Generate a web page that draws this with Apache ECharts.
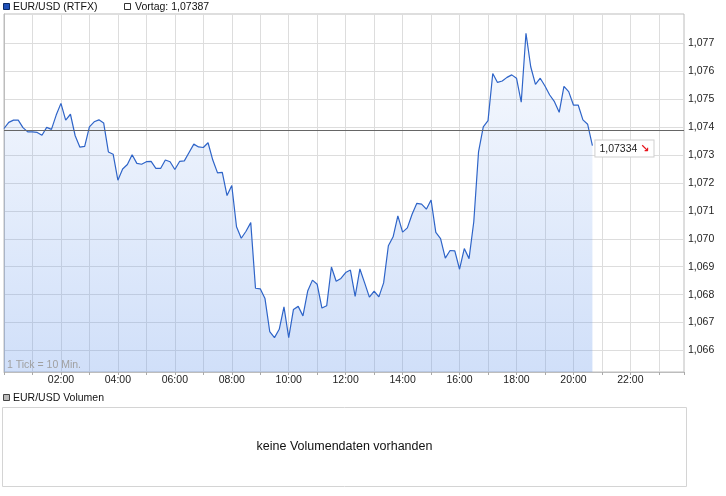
<!DOCTYPE html>
<html><head><meta charset="utf-8">
<script src="https://cdn.jsdelivr.net/npm/echarts@6/dist/echarts.min.js"></script>
<style>html,body{margin:0;padding:0;background:#fff;}#c{width:726px;height:496px;}</style>
</head><body><div id="c"></div>
<script>
// ---- data ----
const seriesName = 'EUR/USD (RTFX)';
const stepMinutes = 10; // 1 Tick = 10 Min., first tick at 00:00
const prices = [
  1.07395, 1.07417, 1.07425, 1.07425, 1.07398, 1.07383, 1.07383, 1.07381, 1.07371, 1.07399,
  1.07392, 1.07443, 1.07485, 1.07425, 1.07446, 1.07369, 1.07328, 1.07331, 1.07401, 1.07419,
  1.07426, 1.07415, 1.07311, 1.07303, 1.07210, 1.07250, 1.07266, 1.07301, 1.07270, 1.07267,
  1.07276, 1.07277, 1.07252, 1.07252, 1.07282, 1.07276, 1.07248, 1.07277, 1.07279, 1.07309,
  1.07339, 1.07329, 1.07327, 1.07344, 1.07282, 1.07236, 1.07238, 1.07155, 1.07191, 1.07043,
  1.07002, 1.07027, 1.07058, 1.06823, 1.06821, 1.06786, 1.06668, 1.06646, 1.06676, 1.06756,
  1.06646, 1.06747, 1.06758, 1.06724, 1.06813, 1.06852, 1.06837, 1.06752, 1.06760, 1.06899,
  1.06848, 1.06858, 1.06879, 1.06888, 1.06794, 1.06892, 1.06842, 1.06791, 1.06813, 1.06792,
  1.06842, 1.06975, 1.07007, 1.07082, 1.07024, 1.07039, 1.07088, 1.07127, 1.07124, 1.07106,
  1.07139, 1.07023, 1.07001, 1.06931, 1.06958, 1.06957, 1.06891, 1.06965, 1.06929, 1.07061,
  1.07311, 1.07401, 1.07423, 1.07592, 1.07560, 1.07565, 1.07578, 1.07587, 1.07575, 1.07489,
  1.07736, 1.07616, 1.07553, 1.07575, 1.07547, 1.07515, 1.07491, 1.07453, 1.07546, 1.07527,
  1.07479, 1.07479, 1.07426, 1.07410, 1.07334
];
const prevClose = 1.07387;
const yTicks = [1.066, 1.067, 1.068, 1.069, 1.070, 1.071, 1.072, 1.073, 1.074, 1.075, 1.076, 1.077];
const xLabelHours = [2, 4, 6, 8, 10, 12, 14, 16, 18, 20, 22];
const legendPrev = 'Vortag: 1,07387';
const volumeTitle = 'EUR/USD Volumen';
const volumeEmpty = 'keine Volumendaten vorhanden';
const tickNote = '1 Tick = 10 Min.';

// ---- chart ----
const F = '"Liberation Sans", Arial, sans-serif';
const fmtDE = (v, d) => v.toFixed(d).replace('.', ',');
const pad = n => (n < 10 ? '0' : '') + n;
const data = prices.map((p, i) => [i * stepMinutes, p]);

const chart = echarts.init(document.getElementById('c'), null, {renderer: 'canvas'});
chart.setOption({
  animation: false,
  backgroundColor: '#fff',
  textStyle: {fontFamily: F},
  grid: {left: 4, right: 42, top: 14, bottom: 124, show: true, borderColor: '#bdbdbd', borderWidth: 1},
  xAxis: {
    type: 'value', min: 0, max: 1433, interval: 60,
    axisLine: {show: true, onZero: false, lineStyle: {color: '#bdbdbd'}},
    axisTick: {show: true, length: 3, lineStyle: {color: '#aaa'}},
    splitLine: {show: true, lineStyle: {color: '#dddddd'}},
    axisLabel: {
      color: '#222', fontSize: 10.5, fontFamily: F, margin: 3,
      formatter: v => (xLabelHours.indexOf(v / 60) >= 0 ? pad(v / 60) + ':00' : '')
    }
  },
  yAxis: {
    type: 'value', position: 'right', min: 1.06523, max: 1.07805,
    axisLine: {show: true, lineStyle: {color: '#bdbdbd'}},
    axisTick: {show: false, customValues: yTicks},
    splitLine: {show: true, lineStyle: {color: '#dddddd'}},
    axisLabel: {
      customValues: yTicks, color: '#222', fontSize: 10.5, fontFamily: F, margin: 4,
      formatter: v => fmtDE(v, 3)
    }
  },
  series: [{
    type: 'line', name: seriesName, data: data,
    symbol: 'none', showSymbol: false,
    lineStyle: {color: '#2e64c8', width: 1.2},
    itemStyle: {color: '#2e64c8'},
    areaStyle: {
      origin: 'start',
      color: {type: 'linear', x: 0, y: 0, x2: 0, y2: 1, colorStops: [
        {offset: 0, color: 'rgba(100,150,235,0.07)'},
        {offset: 1, color: 'rgba(100,150,235,0.43)'}
      ]}
    },
    markLine: {
      silent: true, precision: 5, symbol: ['none', 'none'], label: {show: false},
      lineStyle: {color: '#666', type: 'solid', width: 1},
      emphasis: {disabled: true},
      data: [{yAxis: prevClose}]
    },
    endLabel: {
      show: true, distance: 3, offset: [0, 3],
      backgroundColor: '#fff', borderColor: '#cfcfcf', borderWidth: 1,
      padding: [3, 4, 2, 4], color: '#222', fontSize: 10.5, fontFamily: F,
      formatter: p => fmtDE(p.value[1], 5) + ' {a|↘}',
      rich: {a: {color: '#e8141c', fontFamily: '"DejaVu Sans"', fontSize: 11, fontWeight: 'bold'}}
    }
  }],
  graphic: [
    {type: 'rect', shape: {x: 3.5, y: 3.5, width: 6, height: 6}, style: {fill: '#1f50b8', stroke: '#0b2a66', lineWidth: 1}},
    {type: 'text', x: 13, y: 7, style: {text: seriesName, fill: '#111', font: '10.5px ' + F, verticalAlign: 'middle'}},
    {type: 'rect', shape: {x: 124.5, y: 3.5, width: 6, height: 6}, style: {fill: '#fff', stroke: '#333', lineWidth: 1}},
    {type: 'text', x: 135, y: 7, style: {text: legendPrev, fill: '#111', font: '10.5px ' + F, verticalAlign: 'middle'}},
    {type: 'text', x: 7, y: 365, z: 10, style: {text: tickNote, fill: '#a0a0a0', font: '10.5px ' + F, verticalAlign: 'middle'}},
    {type: 'rect', shape: {x: 3.5, y: 394.5, width: 6, height: 6}, style: {fill: '#bbb', stroke: '#444', lineWidth: 1}},
    {type: 'text', x: 13, y: 398, style: {text: volumeTitle, fill: '#111', font: '10.5px ' + F, verticalAlign: 'middle'}},
    {type: 'rect', shape: {x: 2.5, y: 407.5, width: 684, height: 79}, style: {fill: 'none', stroke: '#d4d4d4', lineWidth: 1}},
    {type: 'text', x: 344.5, y: 447, style: {text: volumeEmpty, fill: '#111', font: '12.5px ' + F, align: 'center', verticalAlign: 'middle'}}
  ]
});
</script>
</body></html>
